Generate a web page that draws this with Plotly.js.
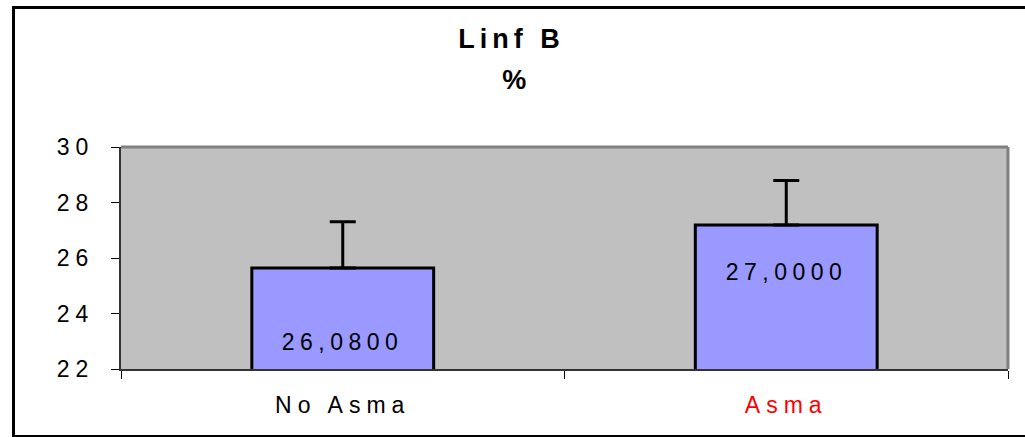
<!DOCTYPE html>
<html>
<head>
<meta charset="utf-8">
<script src="https://cdn.plot.ly/plotly-3.0.1.min.js"></script>
<style>
  html, body { margin: 0; padding: 0; background: #fff; overflow: hidden; }
  #wrap { position: relative; width: 1025px; height: 437px; }
  #chart { position: absolute; left: 0; top: 0; width: 1025px; height: 437px; }
  #frame { position: absolute; left: 12px; top: 6px; width: 1030px; height: 426px;
           border: 3px solid #000; border-right: none; pointer-events: none; }
  #chart text { letter-spacing: 6px; }
  #chart .annotation-text { letter-spacing: 5.5px; }
  #chart .gtitle { letter-spacing: 5px; }
</style>
</head>
<body>
<div id="wrap">
  <div id="chart"></div>
  <div id="frame"></div>
</div>
<script>
// ---- data ----
const categories = ['No Asma', 'Asma'];
const tickLabels = ['No Asma', '<span style="color:#ff0000">Asma</span>'];
const means = [25.64, 27.19];
const errorsUp = [1.67, 1.6];
const valueLabels = ['26,0800', '27,0000'];
const labelY = [22.96, 25.51];
const titleLine1 = 'Linf B';
const titleLine2 = '%';

const font = 'Liberation Sans, Arial, sans-serif';

const trace = {
  type: 'bar',
  x: categories,
  y: means,
  marker: { color: '#9999ff', line: { color: '#000', width: 3 } },
  error_y: {
    type: 'data', symmetric: false,
    array: errorsUp, arrayminus: errorsUp.map(() => 0),
    color: '#000', thickness: 3, width: 13
  },
  hoverinfo: 'none'
};

const annotations = valueLabels.map((t, i) => ({
  x: categories[i], y: labelY[i], xref: 'x', yref: 'y',
  text: t, showarrow: false, yanchor: 'middle', xanchor: 'center',
  font: { family: font, size: 23, color: '#000' }
}));
annotations.push({
  x: 0.447, xref: 'paper', y: 1.30, yref: 'paper',
  text: '<b>' + titleLine2 + '</b>', showarrow: false,
  xanchor: 'center', yanchor: 'middle',
  font: { family: font, size: 27, color: '#000' }
});

const layout = {
  width: 1025, height: 437,
  margin: { l: 121, r: 17, t: 147, b: 68, pad: 0 },
  paper_bgcolor: '#fff',
  plot_bgcolor: '#c0c0c0',
  showlegend: false,
  bargap: 0.59,
  title: {
    text: '<b>' + titleLine1 + '</b>',
    x: 0.499, xref: 'container', xanchor: 'center',
    y: 1 - 39 / 437, yref: 'container', yanchor: 'middle',
    font: { family: font, size: 27, color: '#000' }
  },
  xaxis: {
    type: 'category',
    tickvals: categories, ticktext: tickLabels,
    tickson: 'boundaries',
    ticks: 'outside', ticklen: 8, tickcolor: '#000', tickwidth: 1,
    showline: true, linecolor: '#333', linewidth: 2,
    showgrid: false, zeroline: false,
    ticklabelstandoff: 14,
    tickfont: { family: font, size: 23, color: '#000' }
  },
  yaxis: {
    range: [22, 30], dtick: 2, tick0: 22,
    ticks: 'outside', ticklen: 8, tickcolor: '#000', tickwidth: 1,
    showline: true, linecolor: '#333', linewidth: 2,
    showgrid: false, zeroline: false,
    ticklabelstandoff: 12,
    tickfont: { family: font, size: 23, color: '#000' }
  },
  shapes: [
    { type: 'line', xref: 'paper', yref: 'paper', x0: 0, x1: 1, y0: 1, y1: 1,
      line: { color: '#808080', width: 3 }, layer: 'above' },
    { type: 'line', xref: 'paper', yref: 'paper', x0: 1, x1: 1, y0: 0, y1: 1,
      line: { color: '#808080', width: 3 }, layer: 'above' }
  ],
  annotations: annotations
};

Plotly.newPlot('chart', [trace], layout, { displayModeBar: false, staticPlot: true });
</script>
</body>
</html>
